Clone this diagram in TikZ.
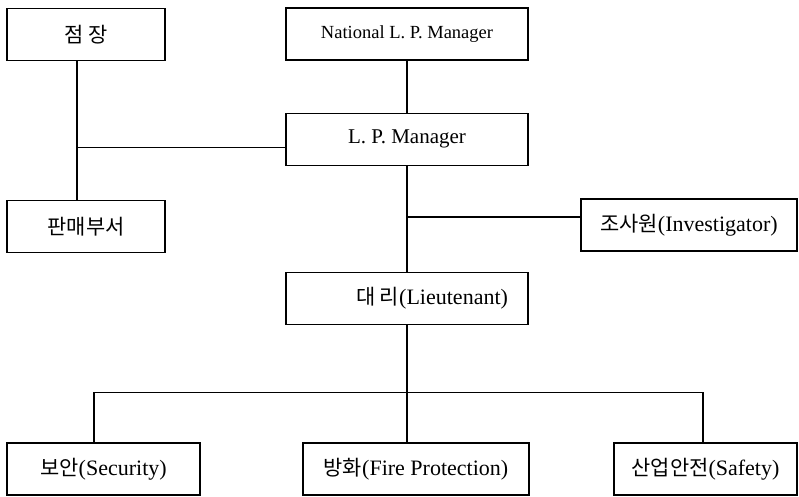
\documentclass[tikz,border=0pt]{standalone}
\usepackage{fontspec}
\setmainfont{Liberation Serif}
\newfontfamily\kr[Scale=0.95]{Noto Sans CJK KR}
\usetikzlibrary{positioning, calc}

\begin{document}
\begin{tikzpicture}[
 x=1pt, y=-1pt,
 node distance=52pt and 52pt,
 unit/.style={draw, rectangle, line width=1.1pt, minimum height=52pt, inner sep=0pt},
 link/.style={-, line width=1.1pt},
 font=\fontsize{22}{24}\selectfont
 ]

  \useasboundingbox (0,0) rectangle (799,496);

  % Store side
  \node[unit, minimum width=158pt] at (86,34.5) (store_mgr) {\kr 점 장};
  \node[unit, minimum width=158pt] at (86,226.5) (sales_dept) {\kr 판매부서};

  % Loss prevention chain
  \node[unit, minimum width=242pt, font=\fontsize{18.5}{21}\selectfont] at (407,34) (nat_mgr) {National L. P. Manager};
  \node[unit, minimum width=242pt, font=\fontsize{21}{23}\selectfont, below=52pt of nat_mgr] (lp_mgr) {L. P. Manager};
  \node[unit, minimum width=216pt] at (689,225) (investigator) {{\kr 조사원}(Investigator)};
  \node[unit, minimum width=242pt, below=106pt of lp_mgr] (lieutenant) {\hspace*{50pt}{\kr 대 리}(Lieutenant)};

  % Bottom row
  \node[unit, minimum width=193pt] at (103.5,469) (security) {{\kr 보안}(Security)};
  \node[unit, minimum width=226pt] at (416,469) (fire_prot) {{\kr 방화}(Fire Protection)};
  \node[unit, minimum width=183pt] at (705.5,469) (safety) {{\kr 산업안전}(Safety)};

  % Joints
  \coordinate (store_trunk) at ([xshift=-9pt]store_mgr.south);
  \coordinate (lp_join) at ([yshift=-8.5pt]lp_mgr.west);
  \coordinate (inv_join) at ([yshift=8pt]investigator.west);
  \coordinate (bus) at ([yshift=-68pt]lieutenant.south);

  % Store line
  \draw[link] (store_trunk) -- (store_trunk |- sales_dept.north);
  \draw[link] (lp_join) -- (lp_join -| store_trunk);

  % Main trunk
  \draw[link] (nat_mgr) -- (lp_mgr);
  \draw[link] (lp_mgr) -- (lieutenant);
  \draw[link] (inv_join) -- (inv_join -| lp_mgr.south);

  % Bus to bottom row
  \draw[link] (lieutenant.south) -- (lieutenant.south |- fire_prot.north);
  \draw[link] ([xshift=-9.5pt]security.north) |- (bus);
  \draw[link] ([xshift=-2.5pt]safety.north) |- (bus);

\end{tikzpicture}
\end{document}
